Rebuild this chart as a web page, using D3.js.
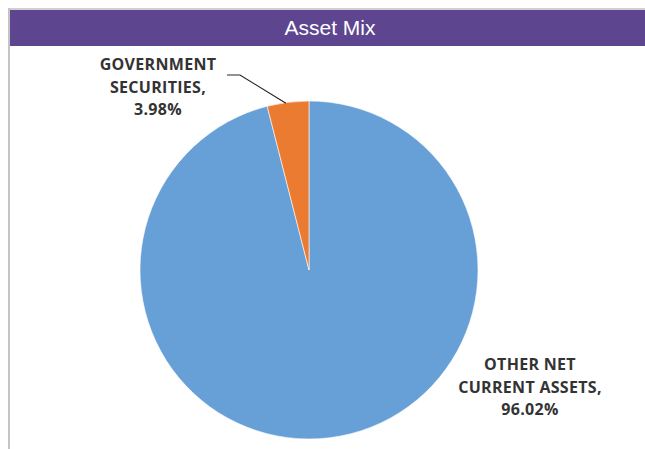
<!DOCTYPE html>
<html>
<head>
<meta charset="utf-8">
<script src="https://cdn.jsdelivr.net/npm/d3@7"></script>
<style>
  html, body { margin: 0; padding: 0; background: #fff; }
  svg { display: block; }
</style>
</head>
<body>
<svg id="chart" width="645" height="449"></svg>
<script>
// Asset mix: share of each holding
const categories = ["OTHER NET CURRENT ASSETS", "GOVERNMENT SECURITIES"];
const values = [96.02, 3.98];
const colors = ["#679FD7", "#EB7B30"];
const labelLines = [["OTHER NET", "CURRENT ASSETS,", "96.02%"], ["GOVERNMENT", "SECURITIES,", "3.98%"]];

const svg = d3.select("#chart");
const W = 645, H = 449;

// Frame: gray top and left rules
svg.append("rect").attr("x", 8).attr("y", 8).attr("width", W - 8).attr("height", 2).attr("fill", "#CFCFCF");
svg.append("rect").attr("x", 8).attr("y", 8).attr("width", 2).attr("height", H - 8).attr("fill", "#C4C4C4");

// Header band
svg.append("rect").attr("x", 10).attr("y", 10).attr("width", W - 10).attr("height", 36).attr("fill", "#5E4590");
svg.append("text")
  .attr("x", 330).attr("y", 35)
  .attr("text-anchor", "middle")
  .attr("fill", "#ffffff")
  .attr("font-family", "'Liberation Sans', Arial, sans-serif")
  .attr("font-size", 21)
  .text("Asset Mix");

// Pie
const cx = 309, cy = 270, r = 169;
const pie = d3.pie().sort(null).value(d => d)(values);
const arc = d3.arc().innerRadius(0).outerRadius(r);
const g = svg.append("g").attr("transform", `translate(${cx},${cy})`);
g.selectAll("path").data(pie).join("path")
  .attr("d", arc)
  .attr("fill", (d, i) => colors[i])
  .attr("stroke", "#ffffff")
  .attr("stroke-width", 0.6);

// Data labels
const labelPos = [{x: 530, y: 370}, {x: 158, y: 70}];
const lab = svg.append("g")
  .attr("font-family", "'Open Sans', 'DejaVu Sans', sans-serif")
  .attr("font-weight", "bold")
  .attr("font-size", 16)
  .attr("letter-spacing", 0.3)
  .attr("fill", "#333333")
  .attr("text-anchor", "middle");
labelLines.forEach((lines, i) => {
  const t = lab.append("text").attr("x", labelPos[i].x).attr("y", labelPos[i].y);
  lines.forEach((s, k) => {
    t.append("tspan").attr("x", labelPos[i].x).attr("dy", k === 0 ? 0 : 22.5).text(s);
  });
});

// Leader line for the small slice
const small = pie[1];
const mid = (small.startAngle + small.endAngle) / 2;
const edge = [cx + Math.sin(mid) * r, cy - Math.cos(mid) * r];
svg.append("path")
  .attr("d", d3.line()([[227, 75], [240, 75], [edge[0] - 2, edge[1] + 1]]))
  .attr("fill", "none")
  .attr("stroke", "#262626")
  .attr("stroke-width", 1.2);
</script>
</body>
</html>
